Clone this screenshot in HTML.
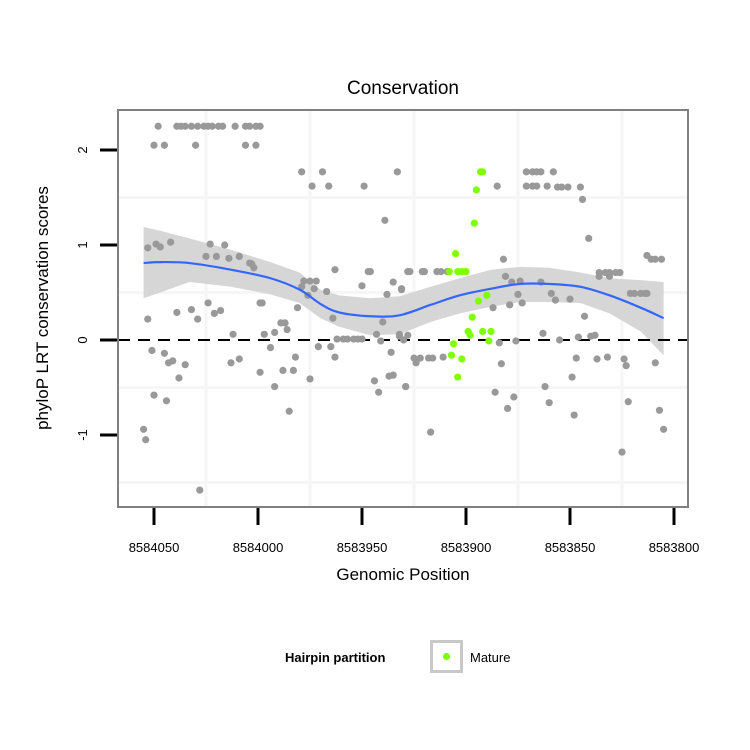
<!DOCTYPE html>
<html><head><meta charset="utf-8"><style>
body{margin:0;background:#fff}
svg{display:block;font-family:"Liberation Sans",sans-serif}
</style></head><body>
<svg id="chart" width="750" height="750" viewBox="0 0 750 750">
<rect width="750" height="750" fill="#fff"/>
<text x="403" y="94" font-size="19" text-anchor="middle">Conservation</text>
<g id="plot"></g>
<text x="403" y="580" font-size="17" text-anchor="middle">Genomic Position</text>
<text transform="translate(48,308) rotate(-90)" font-size="17" text-anchor="middle">phyloP LRT conservation scores</text>
<g>
<text x="285" y="662" font-size="13" font-weight="bold">Hairpin partition</text>
<rect x="431.5" y="641.5" width="30" height="30" fill="#fff" stroke="#c8c8c8" stroke-width="3"/>
<circle cx="446.5" cy="656.5" r="3.6" fill="#7fff00"/>
<text x="470" y="662" font-size="13">Mature</text>
</g>
</svg>
<script>
const grayPos = [8584048,8584039,8584037,8584035,8584032,8584029,8584026,8584024,8584022,8584019,8584017,8584011,8584006,8584004,8584001,8583999,
8584050,8584045,8584030,8584006,8584001,
8583979,8583969,8583933,8583974,8583966,8583949,8583939,
8584053,8584049,8584047,8584042,8584025,8584023,8584020,8584016,8584014,8584009,8584003,8584002,8584004,
8584053,8584039,8584032,8584029,8584024,8584021,8584018,8584012,8583999,8583998,8583997,8583994,8583992,8583989,8583987,8583986,8583981,8583978,8583975,8583972,8583973,8583979,8583976,8583967,8583963,8583964,8583950,8583947,8583946,8583935,8583938,8583931,8583928,8583940,8583943,8583941,8583932,8583930,
8583962,8583959,8583957,8583954,8583952,8583950,8583971,8583965,8583963,
8584051,8584045,8584043,8584041,8584035,8584038,8584050,8584044,8584055,8584054,8584013,8584009,8583999,8583992,8583988,8583983,8583982,8583985,8583975,8584028,8583944,8583942,8583937,8583935,8583936,8583929,
8583871,8583868,8583866,8583864,8583858,8583885,8583871,8583868,8583866,8583861,8583856,8583854,8583851,8583845,8583844,8583841,8583882,8583813,8583811,8583809,8583806,
8583927,8583921,8583920,8583914,8583912,8583909,8583881,8583878,8583874,8583864,8583836,8583833,8583831,8583828,8583826,8583836,8583831,
8583931,8583875,8583873,8583879,8583887,8583859,8583857,8583850,8583843,8583821,8583819,8583816,8583814,8583813,
8583932,8583928,8583884,8583876,8583863,8583855,8583846,8583840,8583838,
8583925,8583924,8583922,8583918,8583916,8583911,8583883,8583847,8583837,8583832,8583824,8583823,8583809,
8583929,8583862,8583849,8583886,8583880,8583877,8583860,8583848,8583822,8583807,8583805,8583917,8583825];
const grayScore = [2.25,2.25,2.25,2.25,2.25,2.25,2.25,2.25,2.25,2.25,2.25,2.25,2.25,2.25,2.25,2.25,
2.05,2.05,2.05,2.05,2.05,
1.77,1.77,1.77,1.62,1.62,1.62,1.26,
0.97,1.01,0.98,1.03,0.88,1.01,0.88,1.00,0.86,0.88,0.80,0.76,0.81,
0.22,0.29,0.32,0.22,0.39,0.28,0.31,0.06,0.39,0.39,0.06,-0.08,0.08,0.18,0.18,0.11,0.34,0.62,0.62,0.62,0.54,0.56,0.47,0.51,0.74,0.23,0.57,0.72,0.72,0.61,0.48,0.54,0.72,0.19,0.06,-0.01,0.06,0.00,
0.01,0.01,0.01,0.01,0.01,0.01,-0.07,-0.07,-0.18,
-0.11,-0.14,-0.24,-0.22,-0.26,-0.40,-0.58,-0.64,-0.94,-1.05,-0.24,-0.20,-0.34,-0.49,-0.32,-0.32,-0.18,-0.75,-0.41,-1.58,-0.43,-0.55,-0.38,-0.37,-0.13,-0.49,
1.77,1.77,1.77,1.77,1.77,1.62,1.62,1.62,1.62,1.62,1.61,1.61,1.61,1.61,1.48,1.07,0.85,0.89,0.85,0.85,0.85,
0.72,0.72,0.72,0.72,0.72,0.72,0.67,0.61,0.62,0.61,0.71,0.71,0.71,0.71,0.71,0.67,0.67,
0.53,0.48,0.39,0.37,0.34,0.49,0.42,0.43,0.25,0.49,0.49,0.49,0.49,0.49,
0.04,0.05,-0.03,-0.01,0.07,0.00,0.03,0.04,0.05,
-0.19,-0.24,-0.19,-0.19,-0.19,-0.18,-0.25,-0.19,-0.20,-0.18,-0.20,-0.27,-0.24,
-0.49,-0.49,-0.39,-0.55,-0.72,-0.60,-0.66,-0.79,-0.65,-0.74,-0.94,-0.97,-1.18];
const maturePos = [8583893,8583892,8583895,8583896,8583905,8583908,8583904,8583902,8583900,8583894,8583890,8583897,8583899,8583898,8583892,8583888,8583889,8583906,8583907,8583902,8583904];
const matureScore = [1.77,1.77,1.58,1.23,0.91,0.72,0.72,0.72,0.72,0.41,0.47,0.24,0.09,0.05,0.09,0.09,-0.01,-0.04,-0.16,-0.20,-0.39];
const fitPos = [8584055,8584047,8584033,8584013,8583994,8583980,8583970,8583961,8583946,8583932,8583917,8583903,8583888,8583874,8583860,8583845,8583831,8583816,8583805];
const fitY = [0.81,0.82,0.81,0.74,0.65,0.53,0.38,0.29,0.25,0.26,0.37,0.47,0.54,0.59,0.59,0.56,0.47,0.34,0.23];
const fitHi = [1.19,1.15,1.07,0.95,0.82,0.71,0.53,0.47,0.44,0.46,0.56,0.65,0.74,0.77,0.76,0.71,0.65,0.63,0.61];
const fitLo = [0.44,0.50,0.61,0.56,0.48,0.39,0.23,0.14,0.05,0.06,0.19,0.28,0.35,0.40,0.40,0.39,0.28,0.09,-0.16];
const xTicks = [8584050,8584000,8583950,8583900,8583850,8583800];
const xTickLabels = ["8584050","8584000","8583950","8583900","8583850","8583800"];
const yTicks = [2,1,0,-1];
const yTickLabels = ["2","1","0","-1"];
const xGrid = [8584025,8583975,8583925,8583875,8583825];
const yGrid = [1.5,0.5,-0.5,-1.5];

const NS="http://www.w3.org/2000/svg";
const svg=document.getElementById('chart');
const plot=document.getElementById('plot');
const L=118,R=688,T=110,B=507;
function sx(p){return 154+(8584050-p)*2.08;}
function sy(v){return 340-v*95;}
function mk(tag,attrs,parent){const e=document.createElementNS(NS,tag);for(const k in attrs)e.setAttribute(k,attrs[k]);(parent||plot).appendChild(e);return e;}

let bg=mk('rect',{x:L,y:T,width:R-L,height:B-T,fill:'#fff'});


xGrid.forEach(g=>{const l=mk('line',{x1:sx(g),x2:sx(g),y1:T,y2:B,stroke:'#f6f6f6','stroke-width':3});

});
yGrid.forEach(g=>{const l=mk('line',{x1:L,x2:R,y1:sy(g),y2:sy(g),stroke:'#f6f6f6','stroke-width':3});

});

let band='M';
fitPos.forEach((p,i)=>{band+=(i?'L':'')+sx(p)+','+sy(fitHi[i]);});
for(let i=fitPos.length-1;i>=0;i--)band+='L'+sx(fitPos[i])+','+sy(fitLo[i]);
band+='Z';
const bandEl=mk('path',{d:band,fill:'#d6d6d6'});



const zl=mk('line',{x1:L,x2:R,y1:sy(0),y2:sy(0),stroke:'#000','stroke-width':2,'stroke-dasharray':'12 8'});



grayPos.forEach((p,i)=>{const c=mk('circle',{cx:sx(p),cy:sy(grayScore[i]),r:3.6,fill:'#999'});

});
maturePos.forEach((p,i)=>{const c=mk('circle',{cx:sx(p),cy:sy(matureScore[i]),r:3.6,fill:'#7fff00'});

});

let fd='';
for(let i=0;i<fitPos.length;i++){
  const x=sx(fitPos[i]),y=sy(fitY[i]);
  if(i===0){fd='M'+x+','+y;continue;}
  const x0=sx(fitPos[i-1]),y0=sy(fitY[i-1]);
  const xp=i>1?sx(fitPos[i-2]):x0,yp=i>1?sy(fitY[i-2]):y0;
  const xn=i<fitPos.length-1?sx(fitPos[i+1]):x,yn=i<fitPos.length-1?sy(fitY[i+1]):y;
  fd+='C'+(x0+(x-xp)/6)+','+(y0+(y-yp)/6)+' '+(x-(xn-x0)/6)+','+(y-(yn-y0)/6)+' '+x+','+y;
}
const fl=mk('path',{d:fd,fill:'none',stroke:'#3366ff','stroke-width':2.2});



const border=mk('rect',{x:L,y:T,width:R-L,height:B-T,fill:'none',stroke:'#808080','stroke-width':2});



xTicks.forEach((t,i)=>{
  const l=mk('line',{x1:sx(t),x2:sx(t),y1:508,y2:525,stroke:'#000','stroke-width':3},svg);
  
  
  const tx=mk('text',{x:sx(t),y:552,'font-size':13,'text-anchor':'middle'},svg);
  tx.textContent=xTickLabels[i];
  
  
});
yTicks.forEach((t,i)=>{
  const l=mk('line',{x1:100,x2:117,y1:sy(t),y2:sy(t),stroke:'#000','stroke-width':3},svg);
  
  
  const tx=mk('text',{transform:'translate(87,'+sy(t)+') rotate(-90)','font-size':13,'text-anchor':'middle'},svg);
  tx.textContent=yTickLabels[i];
  
  
});
</script>
</body></html>
